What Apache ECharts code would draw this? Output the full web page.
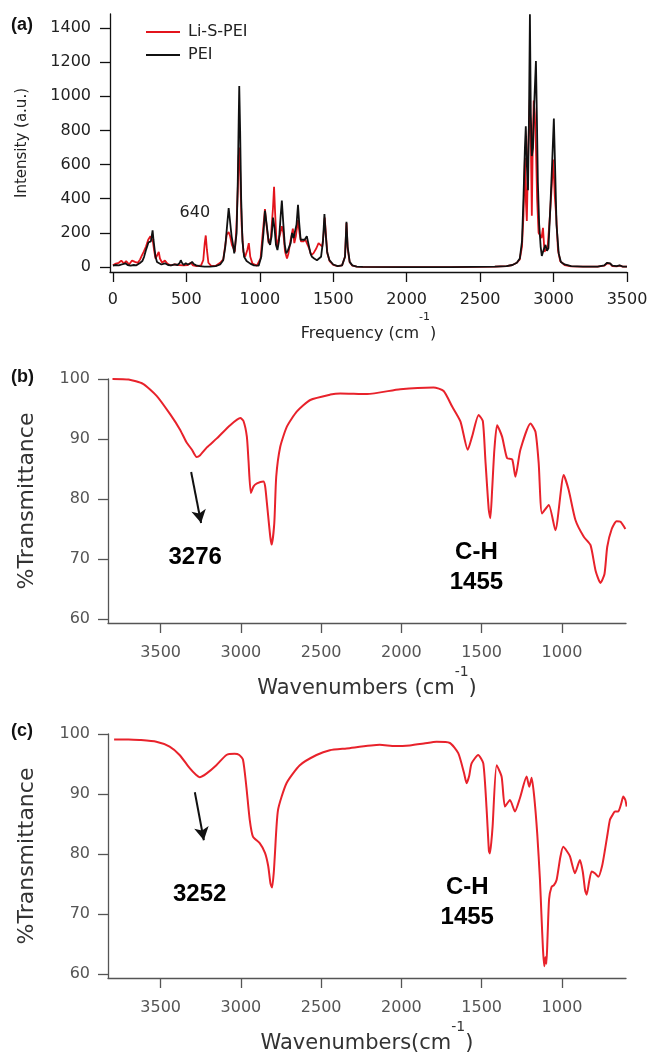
<!DOCTYPE html>
<html>
<head>
<meta charset="utf-8">
<script src="https://cdn.jsdelivr.net/npm/echarts@6/dist/echarts.min.js"></script>
<style>html,body{margin:0;padding:0;background:#fff}#c{width:653px;height:1055px}</style>
</head>
<body>
<div id="c"></div>
<script>
// ---------- Panel (a): calculated spectra ----------
const aNames = ['Li-S-PEI', 'PEI'];
const aTicksX = [0, 500, 1000, 1500, 2000, 2500, 3000, 3500];
const aTicksY = [0, 200, 400, 600, 800, 1000, 1200, 1400];
const aPEI = [[0,8],[20,12],[40,10],[60,15],[85,22],[100,12],[120,8],[142,12],[160,10],[184,24],[200,35],[212,60],[225,100],[232,118],[242,145],[250,155],[258,150],[263,175],[270,215],[276,160],[283,110],[290,60],[300,30],[312,25],[330,15],[354,22],[375,12],[397,10],[420,15],[440,12],[455,25],[462,40],[470,25],[482,12],[496,22],[510,15],[525,20],[539,30],[550,18],[567,10],[590,5],[623,2],[660,2],[700,5],[730,15],[751,40],[765,120],[778,250],[788,345],[796,280],[808,180],[816,140],[826,80],[833,70],[842,200],[850,500],[856,850],[860,1060],[866,800],[873,400],[882,150],[893,60],[910,35],[935,20],[960,10],[992,8],[1010,60],[1025,200],[1035,330],[1045,260],[1060,150],[1070,130],[1080,180],[1090,290],[1100,230],[1110,130],[1120,100],[1130,150],[1142,300],[1150,390],[1158,280],[1170,130],[1180,80],[1190,95],[1200,100],[1210,140],[1220,200],[1230,170],[1240,160],[1250,250],[1260,365],[1268,260],[1278,160],[1290,150],[1305,160],[1320,180],[1330,140],[1345,80],[1355,60],[1370,50],[1389,40],[1400,45],[1417,60],[1430,150],[1440,310],[1448,200],[1458,90],[1474,40],[1500,15],[1530,5],[1560,10],[1580,60],[1590,265],[1598,120],[1612,30],[1630,10],[1660,3],[1700,1],[2000,0],[2300,0],[2600,2],[2680,5],[2720,12],[2750,25],[2770,50],[2785,150],[2795,400],[2805,700],[2811,824],[2818,600],[2826,450],[2833,900],[2839,1480],[2845,900],[2852,650],[2860,700],[2868,950],[2880,1206],[2886,900],[2893,500],[2902,250],[2912,120],[2920,65],[2932,100],[2945,130],[2955,95],[2965,110],[2978,350],[2990,600],[3002,870],[3010,600],[3020,250],[3035,80],[3050,30],[3075,15],[3120,5],[3200,2],[3300,3],[3345,10],[3365,25],[3375,35],[3385,22],[3400,8],[3430,5],[3450,10],[3470,3],[3500,2]];
const aLiS = [[0,10],[20,20],[40,25],[57,38],[75,20],[90,35],[110,15],[130,38],[150,30],[170,25],[185,45],[198,70],[210,90],[225,120],[240,160],[255,180],[265,175],[272,150],[280,100],[290,50],[300,60],[312,88],[320,50],[335,25],[354,38],[370,20],[390,10],[420,15],[450,12],[480,10],[510,12],[530,25],[545,10],[570,5],[600,10],[615,40],[625,140],[632,185],[640,100],[650,25],[670,5],[700,8],[730,25],[751,45],[765,130],[775,190],[788,205],[798,180],[810,130],[820,110],[830,90],[840,220],[850,450],[856,650],[862,700],[868,500],[876,250],[888,90],[900,60],[915,100],[925,140],[935,60],[950,20],[980,8],[1005,50],[1020,200],[1035,340],[1045,250],[1060,140],[1075,170],[1090,350],[1097,470],[1104,320],[1115,120],[1128,110],[1140,200],[1150,240],[1160,200],[1172,90],[1185,50],[1195,80],[1210,160],[1225,225],[1235,140],[1245,180],[1260,275],[1270,200],[1280,150],[1295,150],[1310,160],[1320,170],[1335,110],[1350,70],[1365,80],[1385,110],[1400,140],[1412,146],[1425,120],[1435,200],[1442,290],[1450,190],[1460,80],[1475,35],[1500,12],[1530,5],[1560,10],[1580,60],[1590,258],[1598,110],[1612,28],[1630,8],[1660,3],[1700,1],[2000,0],[2300,0],[2600,2],[2680,5],[2720,12],[2750,25],[2770,45],[2785,120],[2795,300],[2805,640],[2812,380],[2818,270],[2828,700],[2838,980],[2846,700],[2852,300],[2858,700],[2865,975],[2872,900],[2880,700],[2888,400],[2898,200],[2910,190],[2918,170],[2928,230],[2938,90],[2948,80],[2960,120],[2975,300],[2988,480],[2998,630],[3008,420],[3018,300],[3030,100],[3045,35],[3075,12],[3120,4],[3200,2],[3300,3],[3345,8],[3365,22],[3375,30],[3385,20],[3400,6],[3430,4],[3450,8],[3470,3],[3500,2]];
const aNote = [{text: '640', x: 558, y: 316}];

// ---------- Panels (b), (c): FTIR spectra ----------
const irTicksX = [1000, 1500, 2000, 2500, 3000, 3500];
const irTicksY = [60, 70, 80, 90, 100];
const bSpec = [[3800,100],[3700,99.9],[3610,99.2],[3525,97.2],[3440,94.1],[3380,91.6],[3340,89.5],[3305,88.2],[3276,87.0],[3254,87.3],[3212,88.6],[3150,90.1],[3067,92.3],[3004,93.5],[2984,93.0],[2963,90.4],[2953,86.5],[2938,81.0],[2921,82.1],[2900,82.6],[2860,82.9],[2849,82.1],[2838,79.3],[2817,73.7],[2808,72.4],[2792,76.0],[2780,83.7],[2755,88.7],[2713,92.1],[2651,94.6],[2568,96.5],[2443,97.4],[2381,97.6],[2214,97.5],[2007,98.3],[1800,98.6],[1737,98.0],[1684,95.4],[1632,92.9],[1587,88.2],[1560,90.4],[1519,94.0],[1493,93.0],[1477,86.5],[1456,78.2],[1446,76.8],[1435,81.5],[1421,88.2],[1404,92.3],[1373,90.4],[1342,86.8],[1310,86.6],[1290,83.7],[1259,88.2],[1196,92.6],[1165,91.2],[1145,86.0],[1124,77.6],[1082,79.0],[1041,74.8],[989,84.0],[958,81.5],[916,76.5],[864,73.7],[822,72.3],[790,68.0],[760,66.0],[735,67.5],[718,72.0],[690,75.0],[660,76.3],[635,76.2],[605,75.0]];
const cSpec = [[3790,99.1],[3700,99.1],[3631,99.0],[3527,98.7],[3444,97.9],[3382,96.5],[3319,94.3],[3280,93.2],[3257,92.8],[3215,93.4],[3153,94.8],[3090,96.5],[3040,96.7],[3010,96.5],[2987,95.7],[2966,91.2],[2945,85.7],[2925,82.9],[2883,81.8],[2850,80.2],[2830,78.0],[2816,75.1],[2806,74.4],[2795,77.0],[2789,79.6],[2769,87.3],[2716,91.8],[2633,94.8],[2529,96.5],[2446,97.3],[2342,97.6],[2135,98.2],[2040,98.0],[1948,98.1],[1860,98.4],[1781,98.7],[1698,98.5],[1646,96.8],[1610,93.5],[1594,91.8],[1578,93.0],[1563,95.1],[1522,96.5],[1490,95.1],[1469,87.3],[1455,80.5],[1449,80.1],[1440,82.0],[1432,84.6],[1407,94.8],[1376,92.9],[1355,87.9],[1324,89.0],[1293,87.1],[1262,89.3],[1220,92.9],[1204,91.2],[1189,92.7],[1173,89.6],[1154,83.4],[1137,75.7],[1128,70.0],[1118,64.0],[1110,61.3],[1103,62.8],[1097,61.7],[1090,66.0],[1080,72.5],[1065,74.5],[1050,74.8],[1033,75.7],[1010,79.5],[992,81.2],[970,80.5],[950,79.6],[919,76.8],[888,79.0],[870,77.0],[856,74.0],[846,73.2],[830,75.5],[815,77.1],[795,76.8],[773,76.2],[750,78.0],[732,80.7],[715,83.5],[701,85.7],[685,86.5],[670,87.1],[649,87.1],[630,88.5],[618,89.6],[605,89.0],[597,87.9]];
const bNotes = [{text: '3276', x: 3285, y: 70.2}, {text: 'C-H\n1455', x: 1533, y: 68.6}];
const cNotes = [{text: '3252', x: 3257, y: 73.2}, {text: 'C-H\n1455', x: 1590, y: 72.0}];
const bArrow = [[3310, 84.5], [3248, 76.0]];
const cArrow = [[3287, 90.3], [3231, 82.3]];

const RED = '#e8222b';
const chart = echarts.init(document.getElementById('c'), null, {renderer: 'canvas'});

function tickAxis(extra, ticks, color, labelColor, margin) {
  return Object.assign({
    type: 'value',
    splitLine: {show: false},
    axisLine: {show: true, onZero: false, lineStyle: {color: color, width: 1.3}},
    axisTick: {show: true, length: 10, customValues: ticks, lineStyle: {color: color, width: 1.3}},
    axisLabel: {show: true, customValues: ticks, formatter: v => String(v), color: labelColor,
      fontFamily: 'DejaVu Sans', fontSize: 16, margin: margin}
  }, extra);
}

function noteSeries(notes, xi, yi) {
  return {
    type: 'scatter', xAxisIndex: xi, yAxisIndex: yi, symbolSize: 1, silent: true,
    itemStyle: {color: 'rgba(255,255,255,0)', opacity: 1},
    data: notes.map(n => ({value: [n.x, n.y], name: n.text})),
    label: {show: true, position: 'inside', formatter: p => p.name, color: '#000', opacity: 1,
      fontFamily: 'Liberation Sans', fontWeight: 'bold', fontSize: 24, lineHeight: 30, align: 'center'}
  };
}

function arrowLine(arrow) {
  return {
    silent: true, symbol: ['none', 'arrow'], symbolSize: [11, 13], animation: false,
    lineStyle: {color: '#111', width: 2, type: 'solid'}, label: {show: false},
    data: [[{coord: arrow[0]}, {coord: arrow[1]}]]
  };
}

const wnName = (txt) => '{a|' + txt + '}{s|-1}{a|)}';
const wnRich = {
  a: {fontFamily: 'DejaVu Sans', fontSize: 21, color: '#333', lineHeight: 34, verticalAlign: 'bottom'},
  s: {fontFamily: 'DejaVu Sans', fontSize: 14, color: '#333', lineHeight: 34, verticalAlign: 'top'}
};

const option = {
  animation: false,
  backgroundColor: '#fff',
  graphic: [
    {type: 'text', left: 11, top: 16, style: {text: '(a)', font: 'bold 18px "Liberation Sans"', fill: '#111'}},
    {type: 'text', left: 11, top: 368, style: {text: '(b)', font: 'bold 18px "Liberation Sans"', fill: '#111'}},
    {type: 'text', left: 11, top: 722, style: {text: '(c)', font: 'bold 18px "Liberation Sans"', fill: '#111'}}
  ],
  legend: {
    data: aNames, orient: 'vertical', left: 141, top: 18, icon: 'rect',
    itemWidth: 34, itemHeight: 2, itemGap: 5,
    textStyle: {fontFamily: 'DejaVu Sans', fontSize: 16, color: '#222', lineHeight: 18, padding: [0, 0, 0, 3]}
  },
  grid: [
    {left: 110, top: 14, width: 517, height: 258},
    {left: 108, top: 379, width: 518, height: 244},
    {left: 108, top: 734, width: 518, height: 244}
  ],
  xAxis: [
    tickAxis({gridIndex: 0, min: -20, max: 3500,
      name: '{a|Frequency (cm}{s|-1}{a|)}', nameLocation: 'middle', nameGap: 40,
      nameTextStyle: {rich: {
        a: {fontFamily: 'DejaVu Sans', fontSize: 16, color: '#222', lineHeight: 30, verticalAlign: 'bottom'},
        s: {fontFamily: 'DejaVu Sans', fontSize: 11, color: '#222', lineHeight: 30, verticalAlign: 'top'}}}
    }, aTicksX, '#111', '#222', 20),
    tickAxis({gridIndex: 1, min: 601, max: 3828, inverse: true,
      name: wnName('Wavenumbers (cm'), nameLocation: 'middle', nameGap: 42, nameTextStyle: {rich: wnRich}
    }, irTicksX, '#555', '#555', 22),
    tickAxis({gridIndex: 2, min: 601, max: 3828, inverse: true,
      name: wnName('Wavenumbers(cm'), nameLocation: 'middle', nameGap: 42, nameTextStyle: {rich: wnRich}
    }, irTicksX, '#555', '#555', 22)
  ],
  yAxis: [
    tickAxis({gridIndex: 0, min: -29, max: 1482,
      name: 'Intensity (a.u.)', nameLocation: 'middle', nameGap: 80,
      nameTextStyle: {fontFamily: 'DejaVu Sans', fontSize: 15, color: '#222'}
    }, aTicksY, '#111', '#222', 19),
    tickAxis({gridIndex: 1, min: 59.33, max: 100,
      name: '%Transmittance', nameLocation: 'middle', nameGap: 70,
      nameTextStyle: {fontFamily: 'DejaVu Sans', fontSize: 22, color: '#333'}
    }, irTicksY, '#555', '#555', 18),
    tickAxis({gridIndex: 2, min: 59.33, max: 100,
      name: '%Transmittance', nameLocation: 'middle', nameGap: 70,
      nameTextStyle: {fontFamily: 'DejaVu Sans', fontSize: 22, color: '#333'}
    }, irTicksY, '#555', '#555', 18)
  ],
  series: [
    {name: aNames[0], type: 'line', xAxisIndex: 0, yAxisIndex: 0, data: aLiS, symbol: 'none',
      lineStyle: {color: '#e3141c', width: 1.8}, itemStyle: {color: '#e3141c'},
      markPoint: {silent: true, symbol: 'circle', symbolSize: 1, itemStyle: {color: 'rgba(0,0,0,0)'},
        data: aNote.map(n => ({coord: [n.x, n.y], name: n.text})),
        label: {show: true, position: 'inside', formatter: p => p.name, color: '#222', fontFamily: 'DejaVu Sans', fontSize: 16}}},
    {name: aNames[1], type: 'line', xAxisIndex: 0, yAxisIndex: 0, data: aPEI, symbol: 'none',
      lineStyle: {color: '#111', width: 1.8}, itemStyle: {color: '#111'}},
    {type: 'line', xAxisIndex: 1, yAxisIndex: 1, data: bSpec, symbol: 'none', smooth: 0.2,
      lineStyle: {color: RED, width: 2}, markLine: arrowLine(bArrow)},
    {type: 'line', xAxisIndex: 2, yAxisIndex: 2, data: cSpec, symbol: 'none', smooth: 0.2,
      lineStyle: {color: RED, width: 2}, markLine: arrowLine(cArrow)},
    noteSeries(bNotes, 1, 1),
    noteSeries(cNotes, 2, 2)
  ]
};
chart.setOption(option);
</script>
</body>
</html>
